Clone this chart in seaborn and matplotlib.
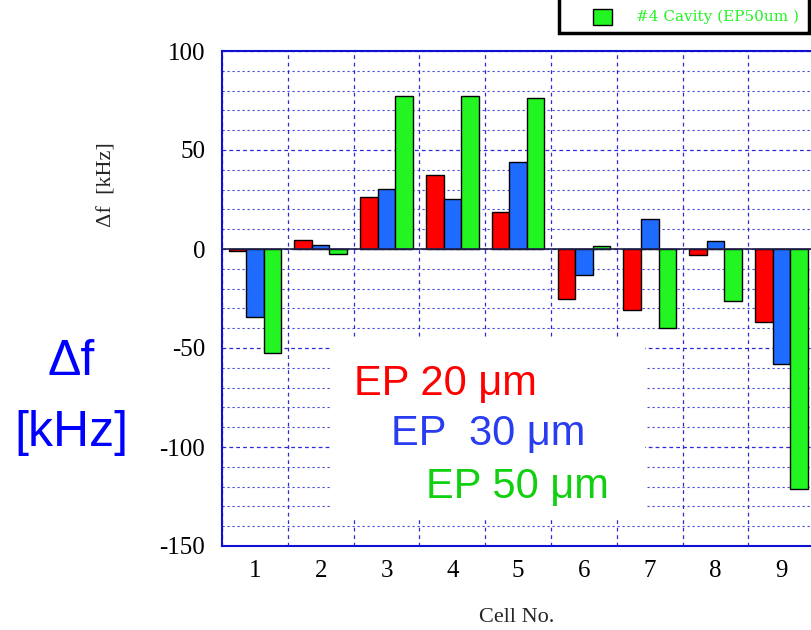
import matplotlib
matplotlib.use("Agg")
import matplotlib.pyplot as plt
import seaborn as sns
import pandas as pd
from matplotlib.patches import Rectangle

cells = ["1", "2", "3", "4", "5", "6", "7", "8", "9"]
ep20 = [-1, 4.5, 26.5, 37.5, 18.5, -25.5, -31, -3, -37]
ep30 = [-34.5, 2, 30.5, 25.5, 44, -13, 15, 4, -58]
ep50 = [-52.5, -2.5, 77.5, 77.5, 76.5, 1.5, -40, -26.5, -121]
series = ["EP 20 μm", "EP  30 μm", "EP 50 μm"]
colors = ["#ff0000", "#1f6bff", "#22f522"]
yticks = [-150, -100, -50, 0, 50, 100]

df = pd.DataFrame({
    "cell": cells * 3,
    "val": ep20 + ep30 + ep50,
    "series": [series[0]] * 9 + [series[1]] * 9 + [series[2]] * 9,
})

sns.set_theme(style="white")
plt.rcParams["font.family"] = ["DejaVu Sans"]
plt.rcParams["axes.unicode_minus"] = False

fig = plt.figure(figsize=(8.11, 6.30), dpi=100)
ax = fig.add_axes([222 / 811, 84 / 630, 589 / 811, 495 / 630])

sns.barplot(data=df, x="cell", y="val", hue="series", hue_order=series,
            palette=colors, order=cells, width=0.8, edgecolor="black",
            linewidth=1.0, saturation=1, ax=ax, legend=False, zorder=3)

ax.set_yticks(yticks)
ax.set_yticks(range(-150, 101, 10), minor=True)
ax.set_xticks(range(len(cells)))
ax.set_xticks([i + 0.5 for i in range(-1, 9)], minor=True)
ax.set_xticklabels(cells)
ax.set_xlim(-0.5, 8.45)
ax.set_ylim(-150, 100)

gridc = "#2a2ad8"
ax.grid(True, which="major", axis="y", color=gridc, linestyle=(0, (3, 2.5)), linewidth=0.9, zorder=0)
ax.grid(True, which="minor", axis="y", color=gridc, linestyle=(0, (2, 2.5)), linewidth=0.8, alpha=0.85, zorder=0)
ax.grid(True, which="minor", axis="x", color=gridc, linestyle=(0, (3, 3)), linewidth=0.9, zorder=0)
ax.grid(False, which="major", axis="x")
ax.axhline(0, color="#20204a", linewidth=1.2, zorder=4)

for s in ["left", "bottom", "top"]:
    ax.spines[s].set_color("#1010d0")
    ax.spines[s].set_linewidth(1.5)
ax.spines["right"].set_visible(False)

ax.tick_params(axis="both", which="both", length=0)
for lab in ax.get_yticklabels() + ax.get_xticklabels():
    lab.set_fontfamily("Liberation Serif")
    lab.set_fontsize(18)
    lab.set_color("black")
ax.tick_params(axis="y", pad=12)
ax.tick_params(axis="x", pad=10)

ax.set_xlabel("Cell No.", fontfamily="Liberation Serif", fontsize=16, labelpad=19)
ax.set_ylabel("")
fig.text(107 / 811, 1 - 185 / 630, "Δf  [kHz]", rotation=90, ha="center", va="center",
         fontfamily="Liberation Serif", fontsize=16)

# white box behind annotation text
fig.patches.append(Rectangle((331 / 811, 1 - 517 / 630), 314 / 811, 177 / 630,
                             transform=fig.transFigure, facecolor="white",
                             edgecolor="none", zorder=2))
fig.text(354 / 811, 1 - 395 / 630, series[0], color=colors[0], fontfamily="Liberation Sans",
         fontsize=30, va="baseline", ha="left", zorder=5)
fig.text(391 / 811, 1 - 445 / 630, series[1], color="#2a3cf0", fontfamily="Liberation Sans",
         fontsize=30, va="baseline", ha="left", zorder=5)
fig.text(426 / 811, 1 - 498 / 630, series[2], color="#10d010", fontfamily="Liberation Sans",
         fontsize=30, va="baseline", ha="left", zorder=5)

fig.text(71 / 811, 1 - 362 / 630, "Δf", color="#0000ff", fontfamily="Liberation Sans",
         fontsize=36, ha="center", va="center")
fig.text(71 / 811, 1 - 433 / 630, "[kHz]", color="#0000ff", fontfamily="Liberation Sans",
         fontsize=36, ha="center", va="center")

# partial legend box at top right
fig.patches.append(Rectangle((559 / 811, 1 - 33 / 630), 250 / 811, 40 / 630,
                             transform=fig.transFigure, facecolor="white",
                             edgecolor="black", linewidth=2.5, zorder=6))
fig.patches.append(Rectangle((593 / 811, 1 - 25 / 630), 19 / 811, 16 / 630,
                             transform=fig.transFigure, facecolor=colors[2],
                             edgecolor="black", linewidth=1, zorder=7))
fig.text(636 / 811, 1 - 17 / 630, "#4 Cavity (EP50um )", color="#22f522",
         fontfamily="DejaVu Serif", fontsize=11, ha="left", va="center", zorder=8)

fig.savefig("out.png", dpi=100)
